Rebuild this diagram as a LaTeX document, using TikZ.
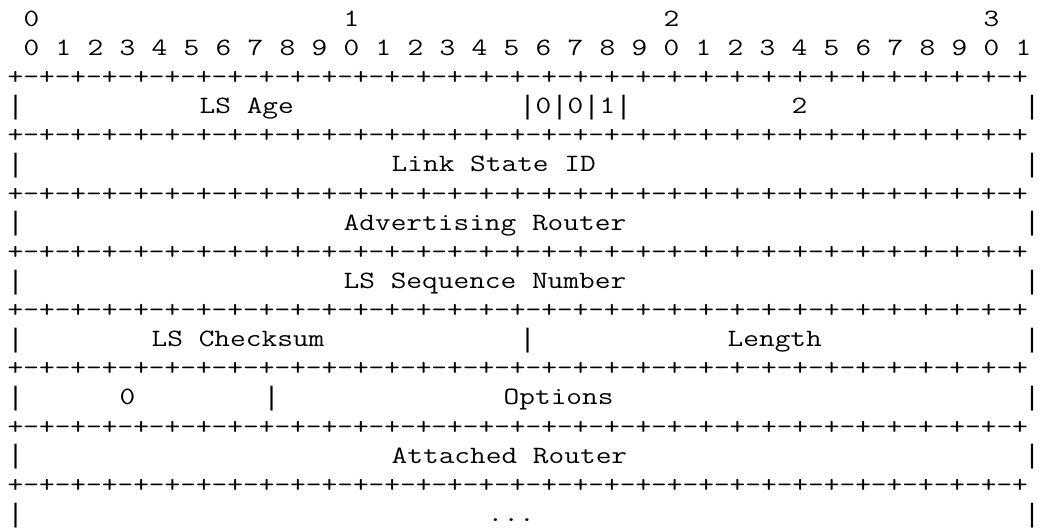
\documentclass[tikz,border=0pt]{standalone}
\usepackage{fontspec}
\usepackage{graphicx}
\newfontfamily\barfont{Liberation Mono}
\newcommand\asciifour{+-+-+-+-}
\newcommand\asciiborder{\asciifour\asciifour\asciifour\asciifour\asciifour\asciifour\asciifour\asciifour+}
\tikzset{
  asc/.style={inner sep=0pt, outer sep=0pt, anchor=base west,
    font=\ttfamily\fontsize{12.45pt}{14.56pt}\selectfont, text=black},
  vbar/.style={inner sep=0pt, outer sep=0pt, anchor=base west,
    font=\barfont\fontsize{13.333pt}{14.56pt}\selectfont, text=black},
}
% place text at character column #2 and text line #3 (widened to Courier proportions)
\newcommand\cell[4]{\node[asc] (#1) at ({7.7+16*(#2)},{26.4+29.12*(#3)}) {\scalebox{1.224}[1]{#4}};}
% a vertical bar at character column #2 and text line #3
\newcommand\vcell[3]{\node[vbar] (#1) at ({7.7+16*(#2)},{27.1+29.12*(#3)}) {|};}
\begin{document}
\begin{tikzpicture}[x=0.5pt,y=-0.5pt]
\useasboundingbox (0,0) rectangle (1040,529);
% ruler
\cell{t0}{1}{0}{0}
\cell{t1}{21}{0}{1}
\cell{t2}{41}{0}{2}
\cell{t3}{61}{0}{3}
\foreach \b in {0,...,31}{
  \pgfmathtruncatemacro\dg{mod(\b,10)}
  \pgfmathtruncatemacro\cl{1+2*\b}
  \cell{bit\b}{\cl}{1}{\dg}
}
% border lines
\foreach \r in {2,4,...,16}{
  \cell{line\r}{0}{\r}{\asciiborder}
}
% side bars
\foreach \r in {3,5,...,17}{
  \vcell{left\r}{0}{\r}
  \node[vbar, anchor=base east] (right\r) at (1040,{27.1+29.12*\r}) {|};
}
% fields
\cell{lsage}{12}{3}{LS Age}
\vcell{ba}{32}{3}
\cell{bz1}{33}{3}{0}
\vcell{bb}{34}{3}
\cell{bz2}{35}{3}{0}
\vcell{bc}{36}{3}
\cell{bo}{37}{3}{1}
\vcell{bd}{38}{3}
\cell{two}{49}{3}{2}
\cell{lsid}{24}{5}{Link State ID}
\cell{advr}{21}{7}{Advertising Router}
\cell{lsseq}{21}{9}{LS Sequence Number}
\cell{lscks}{9}{11}{LS Checksum}
\vcell{sepa}{32}{11}
\cell{len}{45}{11}{Length}
\cell{zero}{7}{13}{0}
\vcell{sepb}{16}{13}
\cell{opts}{31}{13}{Options}
\cell{attr}{24}{15}{Attached Router}
\cell{dots}{30}{17}{...}
\end{tikzpicture}
\end{document}
